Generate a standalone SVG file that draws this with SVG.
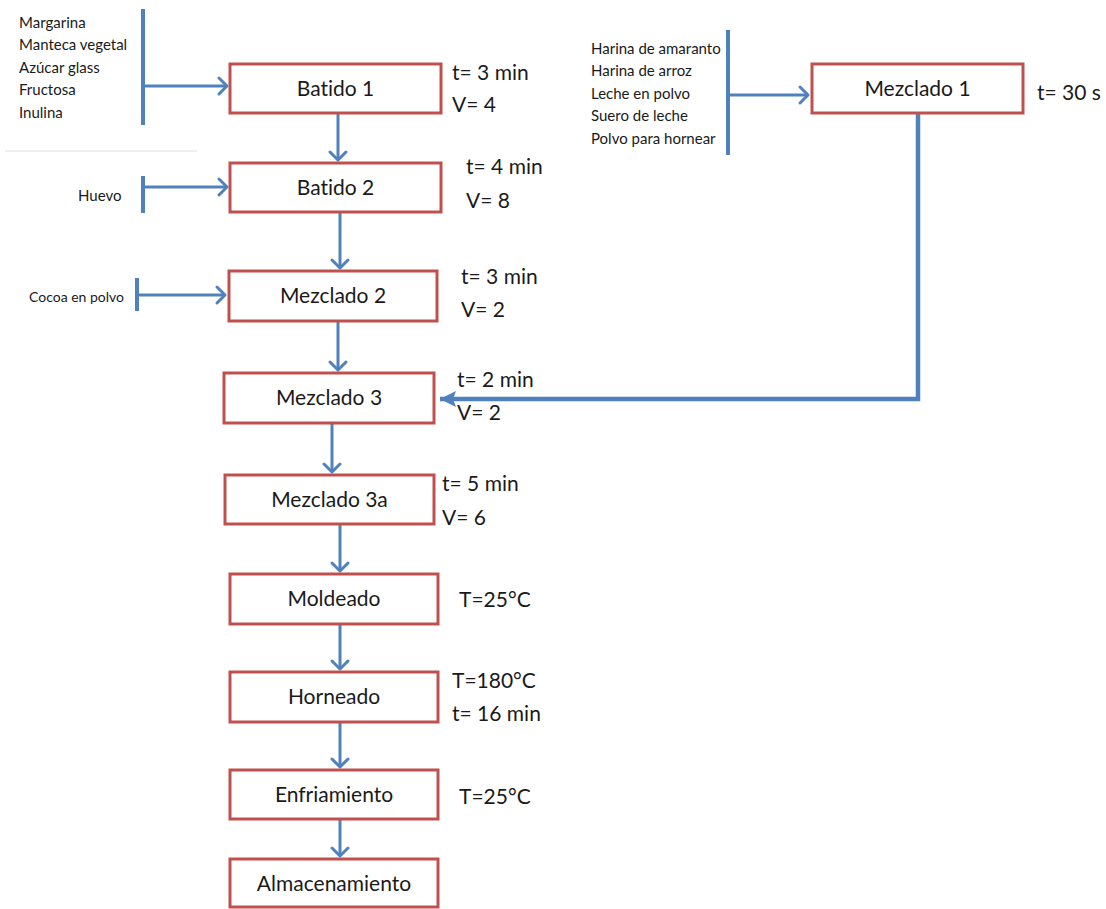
<svg xmlns="http://www.w3.org/2000/svg" width="1106" height="909" viewBox="0 0 1106 909">
<style>
text{font-variant-ligatures:none;font-feature-settings:"liga" 0}
.box{fill:#fff;stroke:#c0504d;stroke-width:3}
.lbl{font-family:Lato,"Open Sans","Liberation Sans",sans-serif;font-size:21px;fill:#1a1a1a;text-anchor:middle}
.par{font-family:Lato,"Open Sans","Liberation Sans",sans-serif;font-size:21px;fill:#1a1a1a}
.ing{font-family:Lato,"Open Sans","Liberation Sans",sans-serif;font-size:15px;fill:#1a1a1a}
.ln{fill:none;stroke:#4f81bd;stroke-width:3}
.bar{fill:none;stroke:#4f81bd;stroke-width:4}
.thick{fill:none;stroke:#4f81bd;stroke-width:4.5}
</style>
<defs>
<marker id="chev" markerUnits="userSpaceOnUse" markerWidth="24" markerHeight="24" viewBox="-12 -12 24 24" refX="0" refY="0" orient="auto">
<path d="M-8,-8 L0,0 L-8,8" fill="none" stroke="#4f81bd" stroke-width="3" stroke-linecap="round" stroke-linejoin="round"/>
</marker>
<marker id="tri" markerUnits="userSpaceOnUse" markerWidth="24" markerHeight="24" viewBox="-20 -12 24 24" refX="0" refY="0" orient="auto">
<path d="M0,0 L-16,-8 L-13,0 L-16,8 Z" fill="#4f81bd"/>
</marker>
</defs>
<rect width="1106" height="909" fill="#fff"/>
<line x1="5" y1="151" x2="197" y2="151" stroke="#efefef" stroke-width="2"/>

<g id="connectors">
<line class="bar" x1="143" y1="9" x2="143" y2="125"/>
<line class="ln" x1="143" y1="86" x2="227" y2="86" marker-end="url(#chev)"/>
<line class="ln" x1="338" y1="113" x2="338" y2="160" marker-end="url(#chev)"/>
<line class="bar" x1="143" y1="176" x2="143" y2="213"/>
<line class="ln" x1="143" y1="187" x2="227" y2="187" marker-end="url(#chev)"/>
<line class="ln" x1="340" y1="212" x2="340" y2="268" marker-end="url(#chev)"/>
<line class="bar" x1="137" y1="278" x2="137" y2="311"/>
<line class="ln" x1="137" y1="295" x2="225" y2="295" marker-end="url(#chev)"/>
<line class="ln" x1="338" y1="321" x2="338" y2="370" marker-end="url(#chev)"/>
<line class="bar" x1="728" y1="30" x2="728" y2="155"/>
<line class="ln" x1="728" y1="95" x2="808" y2="95" marker-end="url(#chev)"/>
<polyline class="thick" points="918,113 918,399 440,399" marker-end="url(#tri)"/>
<line class="ln" x1="332" y1="423" x2="332" y2="472" marker-end="url(#chev)"/>
<line class="ln" x1="340" y1="524" x2="340" y2="571" marker-end="url(#chev)"/>
<line class="ln" x1="340" y1="624" x2="340" y2="669" marker-end="url(#chev)"/>
<line class="ln" x1="340" y1="722" x2="340" y2="767" marker-end="url(#chev)"/>
<line class="ln" x1="340" y1="819" x2="340" y2="856" marker-end="url(#chev)"/>
</g>

<g id="ing1">
<text class="ing" x="19" y="28">Margarina</text>
<text class="ing" x="19" y="50">Manteca vegetal</text>
<text class="ing" x="19" y="73">Azúcar glass</text>
<text class="ing" x="19" y="95">Fructosa</text>
<text class="ing" x="19" y="118">Inulina</text>
</g>
<g id="ing2"><text class="ing" x="78" y="201">Huevo</text></g>
<g id="ing3"><text class="ing" x="29" y="302" style="font-size:14px">Cocoa en polvo</text></g>
<g id="ing4">
<text class="ing" x="591" y="54">Harina de amaranto</text>
<text class="ing" x="591" y="76">Harina de arroz</text>
<text class="ing" x="591" y="99">Leche en polvo</text>
<text class="ing" x="591" y="121">Suero de leche</text>
<text class="ing" x="591" y="144">Polvo para hornear</text>
</g>

<g id="batido1">
<rect class="box" x="230" y="64" width="211" height="49"/>
<text class="lbl" x="335.5" y="96">Batido 1</text>
<text class="par" x="452" y="80">t= 3 min</text>
<text class="par" x="452" y="112">V= 4</text>
</g>
<g id="batido2">
<rect class="box" x="230" y="163" width="211" height="49"/>
<text class="lbl" x="335.5" y="195">Batido 2</text>
<text class="par" x="466" y="174">t= 4 min</text>
<text class="par" x="466" y="208">V= 8</text>
</g>
<g id="mezclado2">
<rect class="box" x="229" y="271" width="208" height="50"/>
<text class="lbl" x="333" y="303">Mezclado 2</text>
<text class="par" x="461" y="284">t= 3 min</text>
<text class="par" x="461" y="317">V= 2</text>
</g>
<g id="mezclado1">
<rect class="box" x="812" y="64" width="211" height="49"/>
<text class="lbl" x="917.5" y="96">Mezclado 1</text>
<text class="par" x="1037" y="100">t= 30 s</text>
</g>
<g id="mezclado3">
<rect class="box" x="224" y="373" width="210" height="50"/>
<text class="lbl" x="329" y="405">Mezclado 3</text>
<text class="par" x="457" y="387">t= 2 min</text>
<text class="par" x="457" y="420">V= 2</text>
</g>
<g id="mezclado3a">
<rect class="box" x="225" y="475" width="209" height="49"/>
<text class="lbl" x="329.5" y="507">Mezclado 3a</text>
<text class="par" x="442" y="491">t= 5 min</text>
<text class="par" x="442" y="525">V= 6</text>
</g>
<g id="moldeado">
<rect class="box" x="230" y="574" width="208" height="50"/>
<text class="lbl" x="334" y="606">Moldeado</text>
<text class="par" x="459" y="607">T=25°C</text>
</g>
<g id="horneado">
<rect class="box" x="230" y="672" width="208" height="50"/>
<text class="lbl" x="334" y="704">Horneado</text>
<text class="par" x="452" y="688">T=180°C</text>
<text class="par" x="452" y="721">t= 16 min</text>
</g>
<g id="enfriamiento">
<rect class="box" x="230" y="770" width="208" height="49"/>
<text class="lbl" x="334" y="802">Enfriamiento</text>
<text class="par" x="459" y="804">T=25°C</text>
</g>
<g id="almacenamiento">
<rect class="box" x="230" y="859" width="208" height="48"/>
<text class="lbl" x="334" y="891">Almacenamiento</text>
</g>
</svg>
